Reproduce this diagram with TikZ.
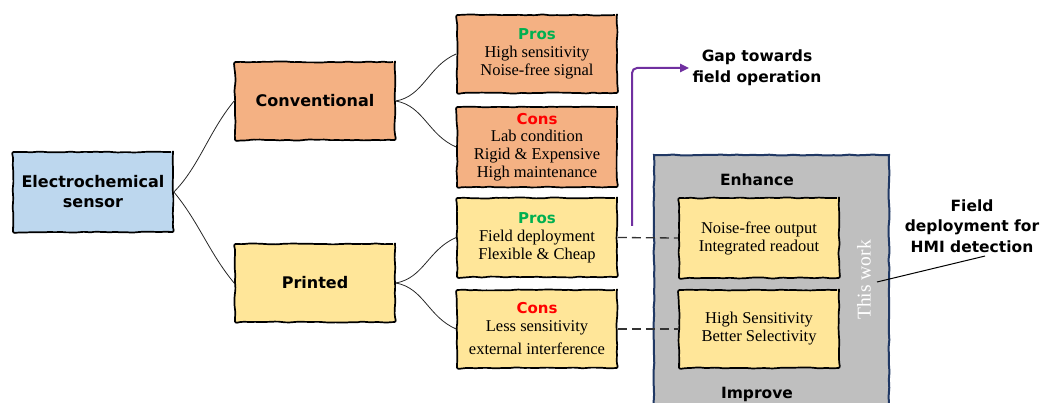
\documentclass[tikz,border=0pt]{standalone}
\usepackage{fontspec}
\setmainfont{Liberation Serif}
\setsansfont{DejaVu Sans}
\usetikzlibrary{decorations.pathmorphing,arrows.meta}

\definecolor{sensorblue}{HTML}{BDD7EE}
\definecolor{convorange}{HTML}{F4B183}
\definecolor{printyellow}{HTML}{FFE699}
\definecolor{workgray}{HTML}{BFBFBF}
\definecolor{worknavy}{HTML}{203864}
\definecolor{gappurple}{HTML}{7030A0}
\definecolor{prosgreen}{HTML}{00B050}
\definecolor{consred}{HTML}{FF0000}

\tikzset{
  sketchbox/.style={draw=black, line width=1.7pt, rounded corners=2pt,
    decorate, decoration={random steps, segment length=5pt, amplitude=0.6pt},
    minimum width=160pt, align=center, inner sep=2pt},
  headtext/.style={font=\sffamily\bfseries\fontsize{16}{20}\selectfont},
  bodytext/.style={font=\fontsize{16.5}{18}\selectfont},
  labeltext/.style={font=\sffamily\bfseries\fontsize{15.5}{21}\selectfont, align=center},
  branch/.style={draw=black!85, line width=0.8pt},
  linkdash/.style={draw=black!80, line width=1.3pt, dash pattern=on 9pt off 5pt},
}
\newcommand{\prohead}{\textcolor{prosgreen}{\sffamily\bfseries\fontsize{15}{18}\selectfont Pros}}
\newcommand{\conhead}{\textcolor{consred}{\sffamily\bfseries\fontsize{15}{18}\selectfont Cons}}

\begin{document}
\begin{tikzpicture}[x=1pt, y=-1pt]
\pgfmathsetseed{11}
\useasboundingbox (0,0) rectangle (1042,403);
\clip (0,0) rectangle (1042,403);

% root and the two families of sensors
\node[sketchbox, headtext, fill=sensorblue, minimum height=80pt] (es) at (93,192) {Electrochemical\\sensor};
\node[sketchbox, headtext, fill=convorange, minimum height=78pt] (conv) at (315,101) {Conventional};
\node[sketchbox, headtext, fill=printyellow, minimum height=78pt] (prnt) at (315,283) {Printed};

% pros and cons of each family
\node[sketchbox, bodytext, fill=convorange, minimum height=78pt] (cpros) at (537,54)
  {\prohead\\[0pt]High sensitivity\\Noise-free signal};
\node[sketchbox, bodytext, fill=convorange, minimum height=80pt] (ccons) at (537,147)
  {\conhead\\[-1pt]Lab condition\\Rigid \& Expensive\\High maintenance};
\node[sketchbox, bodytext, fill=printyellow, minimum height=79pt] (ppros) at (537,237.5)
  {\prohead\\[0pt]Field deployment\\Flexible \& Cheap};
\node[sketchbox, bodytext, fill=printyellow, minimum height=78pt] (pcons) at (537,329)
  {\conhead\\[0pt]Less sensitivity\\[5pt]external interference};

% tree branches
\draw[branch] (es.east) .. controls +(25,-25) and +(-25,30) .. (conv.west);
\draw[branch] (es.east) .. controls +(25,30) and +(-25,-30) .. (prnt.west);
\draw[branch] (conv.east) .. controls +(28,-5) and +(-28,12) .. (cpros.west);
\draw[branch] (conv.east) .. controls +(28,5) and +(-28,-12) .. (ccons.west);
\draw[branch] (prnt.east) .. controls +(28,-5) and +(-28,12) .. (ppros.west);
\draw[branch] (prnt.east) .. controls +(28,5) and +(-28,-12) .. (pcons.west);

% gap arrow
\coordinate (gapstart) at (632,226);
\node[labeltext] (gap) at (757,68) {Gap towards\\field operation};
\draw[draw=gappurple, line width=2pt, rounded corners=5pt, -{Triangle[length=9pt,width=8pt]}]
  (gapstart) |- (gap.west);

% this work panel
\node[draw=worknavy, fill=workgray, line width=2pt, minimum width=235pt, minimum height=265pt,
  decorate, decoration={random steps, segment length=8pt, amplitude=0.5pt}] (panel) at (771.5,287.5) {};
\node[labeltext] (enh) at (757,180) {Enhance};
\node[labeltext] (imp) at (757,394) {Improve};
\node[sketchbox, bodytext, fill=printyellow, minimum height=80pt] (in1) at (759,238)
  {Noise-free output\\Integrated readout};
\node[sketchbox, bodytext, fill=printyellow, minimum height=78pt] (in2) at (759,329)
  {High Sensitivity\\Better Selectivity};
\node[rotate=90, text=white, font=\fontsize{19.5}{22}\selectfont] (tw) at (864,280) {This work};

% links from the printed sensor to this work
\draw[linkdash] (ppros.east) -- (in1.west);
\draw[linkdash] (pcons.east) -- (in2.west);

% field deployment callout
\node[labeltext, font=\sffamily\bfseries\fontsize{15.5}{20.5}\selectfont] (fd) at (972,226)
  {Field\\deployment for\\HMI detection};
\coordinate (twpoint) at (877,282);
\draw[draw=black, line width=1pt] (twpoint) -- (fd.south west -| 985,259);
\end{tikzpicture}
\end{document}
